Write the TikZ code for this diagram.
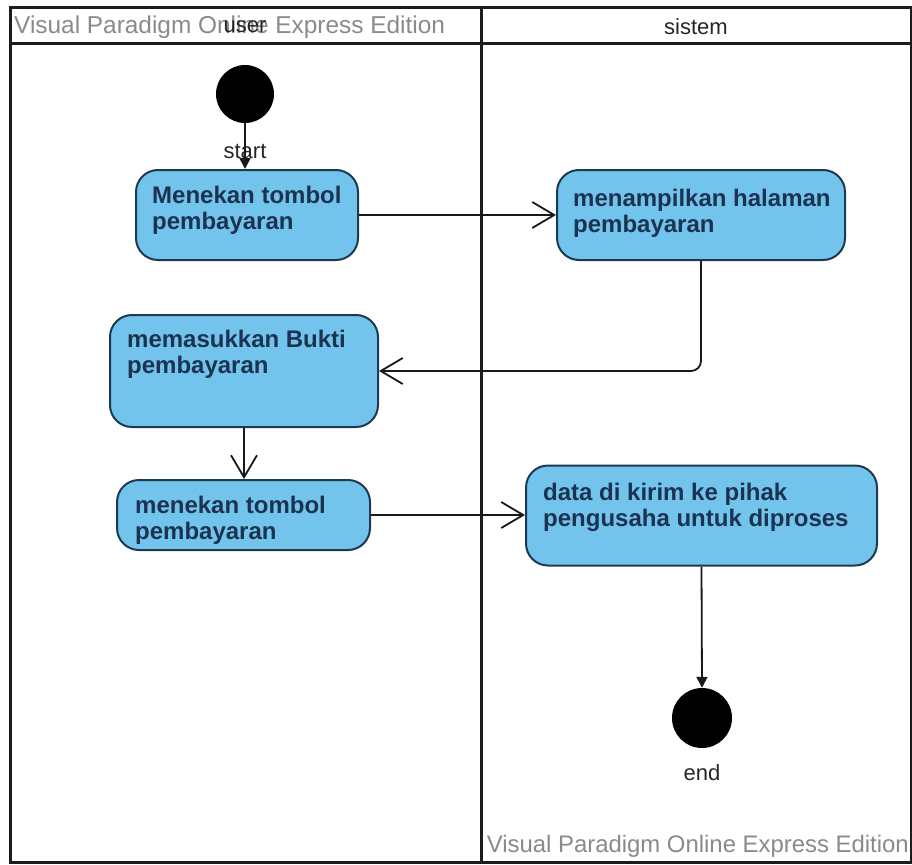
\documentclass[tikz,border=0pt]{standalone}
\usepackage{fontspec}
\setmainfont{Liberation Sans}
\usetikzlibrary{arrows.meta}
\definecolor{actfill}{HTML}{72C4EC}
\definecolor{actline}{HTML}{1E3A52}
\definecolor{acttext}{HTML}{1B3350}
\definecolor{frameline}{HTML}{1C1C1C}
\definecolor{wm}{HTML}{8A8A8A}
\begin{document}
\begin{tikzpicture}[x=1pt,y=-1pt,
  act/.style={draw=actline, line width=2pt, fill=actfill, rounded corners=22pt, inner sep=0pt},
  acttxt/.style={anchor=base west, inner sep=0pt, text=acttext, font=\fontsize{24}{26.5}\selectfont\bfseries},
  frm/.style={draw=frameline, line width=3pt},
  dot/.style={circle, fill=black, inner sep=0pt},
  lbl/.style={inner sep=0pt, text=black!85, font=\fontsize{22}{24}\selectfont},
  wmtxt/.style={inner sep=0pt, text=wm},
  flow/.style={draw=black!90, line width=1.8pt, -{Straight Barb[length=22pt,width=26pt,line width=1.8pt]}},
  flowf/.style={draw=black!90, line width=1.8pt, -{Triangle[length=11pt,width=11pt]}}]
\useasboundingbox (0,0) rectangle (912,864);
\fill[white] (0,0) rectangle (912,864);
% frame
\draw[frm] (10,8) rectangle (911,862);
\draw[frm] (10,44) -- (911,44);
\draw[frm] (481,8) -- (481,862);
% header
\node[wmtxt, anchor=west, font=\fontsize{24.4}{26}\selectfont] (wm1) at (14,27) {Visual Paradigm Online Express Edition};
\node[lbl] (user) at (245,27) {user};
\node[lbl] (sistem) at (696,27) {sistem};
\node[wmtxt, anchor=east, font=\fontsize{23.9}{26}\selectfont] (wm2) at (909,846) {Visual Paradigm Online Express Edition};
% start / end
\node[dot, minimum size=58pt] (start) at (245,94) {};
\node[lbl] (startl) at (245,151) {start};
\node[dot, minimum size=60pt] (end) at (702,718) {};
\node[lbl] (endl) at (702,773) {end};
% activities
\node[act, minimum width=222pt, minimum height=90pt] (b1) at (247,215) {};
\node[acttxt] (t1) at (152,203) {\parbox[t]{300pt}{Menekan tombol\\pembayaran}};
\node[act, minimum width=288pt, minimum height=90pt] (b2) at (701,215) {};
\node[acttxt] (t2) at (573,206) {\parbox[t]{300pt}{menampilkan halaman\\pembayaran}};
\node[act, minimum width=268pt, minimum height=112pt] (b3) at (244,371) {};
\node[acttxt] (t3) at (127,347) {\parbox[t]{300pt}{memasukkan Bukti\\pembayaran}};
\node[act, minimum width=253pt, minimum height=70pt] (b4) at (243.5,515) {};
\node[acttxt] (t4) at (135,513) {\parbox[t]{300pt}{menekan tombol\\pembayaran}};
\node[act, minimum width=351pt, minimum height=100pt] (b5) at (701.5,515.5) {};
\node[acttxt] (t5) at (543,500) {\parbox[t]{340pt}{data di kirim ke pihak\\pengusaha untuk diproses}};
% connectors
\draw[flowf] (start.south) -- (start.south |- b1.north);
\draw[flow] (b1.east) -- (b2.west);
\draw[flow, rounded corners=10pt] (b2.south) |- (b3.east);
\draw[flow] (b3.south) -- (b3.south |- b4.north);
\draw[flow] (b4.east) -- (b4.east -| b5.west);
\draw[flowf] (b5.south) -- (end.north);
\end{tikzpicture}
\end{document}
